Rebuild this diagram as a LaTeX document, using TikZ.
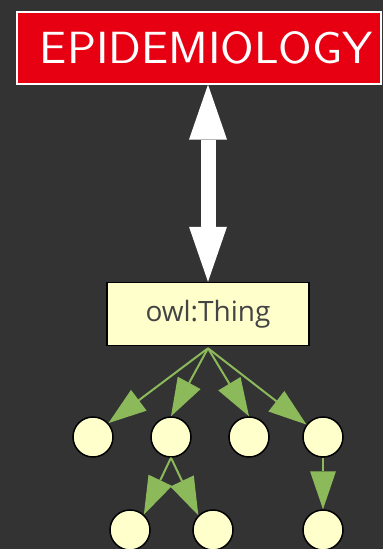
\documentclass[tikz,border=0pt]{standalone}
\usepackage{fontspec}
\usepackage{graphicx}
\usetikzlibrary{arrows.meta}
\newfontfamily\labelfont{Open Sans}
\definecolor{bg}{RGB}{51,51,51}
\definecolor{epired}{RGB}{230,0,18}
\definecolor{paleyellow}{RGB}{255,255,204}
\definecolor{leafgreen}{RGB}{140,186,90}
\definecolor{labelgray}{RGB}{68,68,68}
\tikzset{
  titlebox/.style={draw=white, line width=1.2pt, fill=epired, text=white,
    minimum width=364pt, minimum height=72pt, inner sep=0pt},
  thingbox/.style={draw=black, line width=1.5pt, fill=paleyellow, text=labelgray,
    minimum width=202pt, minimum height=63pt, inner sep=0pt,
    font=\labelfont\fontsize{28}{28}\selectfont},
  classnode/.style={circle, draw=black, line width=1.5pt, fill=paleyellow,
    minimum size=40pt, inner sep=0pt},
  subarrow/.style={draw=leafgreen, line width=2pt,
    -{Triangle[length=38pt,width=26pt,line width=0pt]}, fill=leafgreen},
  bigarrow/.style={draw=white, line width=15pt, fill=white,
    {Triangle[length=55pt,width=38pt,line width=0pt]}-{Triangle[length=55pt,width=38pt,line width=0pt]}}
}
\begin{document}
\begin{tikzpicture}[x=1pt,y=-1pt]
\fill[bg] (0,0) rectangle (383,549);
\useasboundingbox (0,0) rectangle (383,549);
\node[titlebox] (epi) at (199,48) {\hspace{15pt}\resizebox{333pt}{32pt}{\sffamily\fontsize{40}{40}\selectfont EPIDEMIOLOGY}};
\node[thingbox] (thing) at (208,314) {owl:Thing};
\node[classnode] (c1) at (93,437) {};
\node[classnode] (c2) at (171,437) {};
\node[classnode] (c3) at (249,437) {};
\node[classnode] (c4) at (323,437) {};
\node[classnode] (c5) at (130,530) {};
\node[classnode] (c6) at (213,530) {};
\node[classnode] (c7) at (323,530) {};
\path[bigarrow] (thing.north |- epi.south) -- (thing.north);
\coordinate (fork) at ([yshift=-2pt]thing.south);
\path[subarrow] (fork) -- (c1.42);
\path[subarrow] (fork) -- (c2.north);
\path[subarrow] (fork) -- (c3.north);
\path[subarrow] (fork) -- (c4.143);
\path[subarrow] (c2.south) -- (c5.48);
\path[subarrow] (c2.south) -- (c6.135);
\path[subarrow] (c4.south) -- (c7.north);
\end{tikzpicture}
\end{document}
